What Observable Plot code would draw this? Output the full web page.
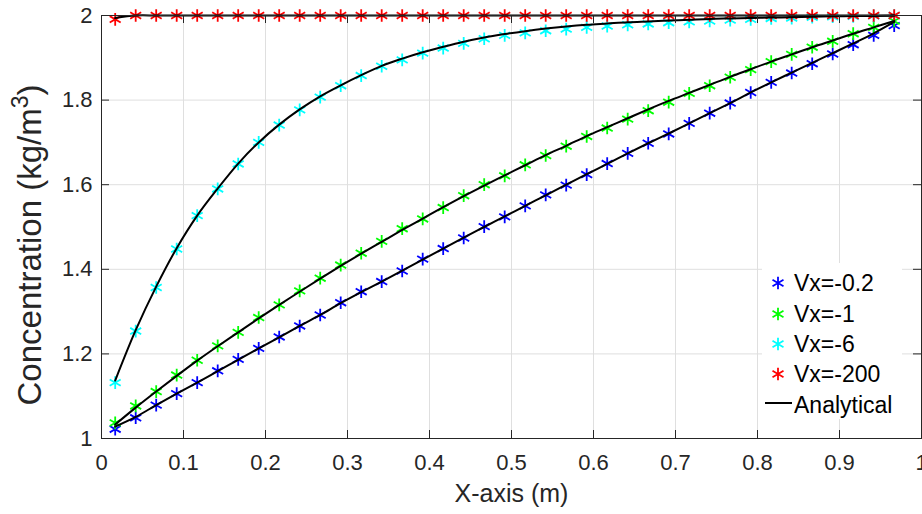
<!DOCTYPE html>
<html><head><meta charset="utf-8">
<script src="https://cdn.jsdelivr.net/npm/d3@7"></script>
<script src="https://cdn.jsdelivr.net/npm/@observablehq/plot@0.6"></script>
<style>
body{margin:0;background:#fff;}
#wrap{position:relative;width:922px;height:514px;overflow:hidden;font-family:"Liberation Sans",Arial,sans-serif;}
</style></head><body><div id="wrap"></div>
<script>
const xPos = [0.0167,0.0417,0.0667,0.0917,0.1167,0.1417,0.1667,0.1917,0.2167,0.2417,0.2667,0.2917,0.3167,0.3417,0.3667,0.3917,0.4167,0.4417,0.4667,0.4917,0.5167,0.5417,0.5667,0.5917,0.6167,0.6417,0.6667,0.6917,0.7167,0.7417,0.7667,0.7917,0.8167,0.8417,0.8667,0.8917,0.9167,0.9417,0.9667];

const vx02 = [1.022,1.049,1.079,1.106,1.132,1.160,1.187,1.213,1.240,1.266,1.292,1.321,1.347,1.371,1.396,1.424,1.449,1.474,1.501,1.524,1.550,1.576,1.599,1.624,1.650,1.674,1.698,1.720,1.745,1.769,1.793,1.818,1.842,1.864,1.886,1.909,1.931,1.953,1.976];
const vx1 = [1.037,1.077,1.111,1.150,1.185,1.219,1.251,1.286,1.316,1.349,1.379,1.410,1.438,1.466,1.496,1.519,1.546,1.574,1.600,1.621,1.647,1.669,1.691,1.714,1.734,1.755,1.775,1.795,1.816,1.834,1.854,1.872,1.891,1.908,1.925,1.939,1.957,1.972,1.987];
const vx6 = [1.132,1.254,1.357,1.448,1.527,1.590,1.649,1.700,1.741,1.777,1.807,1.834,1.858,1.880,1.895,1.911,1.923,1.934,1.945,1.953,1.959,1.964,1.968,1.972,1.975,1.978,1.980,1.983,1.985,1.987,1.989,1.991,1.993,1.994,1.996,1.997,1.998,1.999,2.000];
const vx200 = [1.991,2.000,2.000,2.000,2.000,2.000,2.000,2.000,2.000,2.000,2.000,2.000,2.000,2.000,2.000,2.000,2.000,2.000,2.000,2.000,2.000,2.000,2.000,2.000,2.000,2.000,2.000,2.000,2.000,2.000,2.000,2.000,2.000,2.000,2.000,2.000,2.000,2.000,2.000];

const an02 = [1.028,1.051,1.079,1.106,1.132,1.159,1.186,1.213,1.239,1.266,1.292,1.320,1.346,1.371,1.397,1.423,1.449,1.475,1.500,1.525,1.550,1.575,1.600,1.625,1.649,1.674,1.698,1.721,1.745,1.769,1.793,1.818,1.842,1.865,1.888,1.911,1.934,1.958,1.985];
const an1 = [1.033,1.073,1.111,1.148,1.184,1.218,1.251,1.284,1.316,1.347,1.378,1.408,1.437,1.465,1.493,1.520,1.547,1.573,1.598,1.622,1.646,1.670,1.692,1.715,1.736,1.757,1.778,1.798,1.817,1.836,1.855,1.873,1.891,1.908,1.925,1.941,1.957,1.972,1.987];
const an6 = [1.137,1.256,1.359,1.450,1.527,1.591,1.650,1.700,1.742,1.778,1.809,1.835,1.859,1.881,1.898,1.913,1.926,1.938,1.948,1.956,1.963,1.969,1.974,1.978,1.981,1.984,1.986,1.988,1.990,1.992,1.993,1.994,1.995,1.996,1.997,1.998,1.999,1.999,2.000];
const an200 = [1.994,2.000,2.000,2.000,2.000,2.000,2.000,2.000,2.000,2.000,2.000,2.000,2.000,2.000,2.000,2.000,2.000,2.000,2.000,2.000,2.000,2.000,2.000,2.000,2.000,2.000,2.000,2.000,2.000,2.000,2.000,2.000,2.000,2.000,2.000,2.000,2.000,2.000,2.000];

const seriesNames = ["Vx=-0.2","Vx=-1","Vx=-6","Vx=-200"];
const seriesColors = ["#0000ff","#00ff00","#00ffff","#ff0000"];
const analyticalName = "Analytical";
const xTicks = [0,0.1,0.2,0.3,0.4,0.5,0.6,0.7,0.8,0.9,1];
const yTicks = [1,1.2,1.4,1.6,1.8,2];
const xLabel = "X-axis (m)";
const yLabel = "Concentration (kg/m3)";

const numerical = [vx02, vx1, vx6, vx200];
const analytical = [an02, an1, an6, an200];
const pts = [];
numerical.forEach((arr,k)=>arr.forEach((v,i)=>pts.push({x:xPos[i], y:v, s:seriesNames[k]})));
const lines = [];
analytical.forEach((arr,k)=>arr.forEach((v,i)=>lines.push({x:xPos[i], y:v, s:seriesNames[k]})));

const W = 922, H = 514, mL = 101, mR = 1, mT = 15, mB = 76;
const fw = W - mL - mR, fh = H - mT - mB, tl = 8;
const axisColor = "#262626";
const markR = 6, markW = 1.8;

const plot = Plot.plot({
  width: W, height: H, marginLeft: mL, marginRight: mR, marginTop: mT, marginBottom: mB,
  style: {fontFamily: '"Liberation Sans", Arial, sans-serif', fontSize: "22px", color: axisColor, background: "transparent", overflow: "visible"},
  x: {domain: [0, 1]},
  y: {domain: [1, 2]},
  color: {domain: seriesNames, range: seriesColors},
  marks: [
    Plot.gridX(xTicks, {stroke: "#dfdfdf", strokeOpacity: 1, strokeWidth: 1}),
    Plot.gridY(yTicks, {stroke: "#dfdfdf", strokeOpacity: 1, strokeWidth: 1}),
    Plot.dot(pts, {x: "x", y: "y", stroke: "s", symbol: "asterisk", r: markR, strokeWidth: markW}),
    Plot.line(lines, {x: "x", y: "y", z: "s", stroke: "black", strokeWidth: 2, curve: "catmull-rom"}),
    Plot.frame({stroke: axisColor, strokeWidth: 1}),
    Plot.tickY(yTicks, {y: d => d, stroke: axisColor, insetRight: fw - tl}),
    Plot.tickY(yTicks, {y: d => d, stroke: axisColor, insetLeft: fw - tl}),
    Plot.tickX(xTicks, {x: d => d, stroke: axisColor, insetTop: fh - tl}),
    Plot.tickX(xTicks, {x: d => d, stroke: axisColor, insetBottom: fh - tl}),
    Plot.axisX(xTicks, {tickSize: 0, tickPadding: 16, tickFormat: d => String(d), fontSize: 22, label: null}),
    Plot.axisY(yTicks, {tickSize: 0, tickPadding: 9, tickFormat: d => String(d), fontSize: 22, label: null}),
    Plot.text([xLabel], {frameAnchor: "bottom", textAnchor: "middle", lineAnchor: "middle", dy: 55, fontSize: 25, fill: axisColor}),
    Plot.text([yLabel], {frameAnchor: "left", textAnchor: "middle", lineAnchor: "middle", rotate: -90, dx: -71, dy: 18, fontSize: 33, fill: axisColor})
  ]
});
document.getElementById("wrap").appendChild(plot);

// superscript in y label
d3.select(plot).selectAll("text").filter(function(){ return this.textContent === yLabel; }).each(function(){
  const t = d3.select(this);
  t.text("Concentration (kg/m");
  t.append("tspan").attr("dy", "-13px").attr("font-size", "23px").text("3");
  t.append("tspan").attr("dy", "13px").text(")");
});

// legend
const leg = d3.select("#wrap").append("svg")
  .attr("width", 140).attr("height", 156)
  .style("position", "absolute").style("left", "762px").style("top", "263px")
  .style("font-family", '"Liberation Sans", Arial, sans-serif').style("font-size", "23px");
leg.append("rect").attr("width", 140).attr("height", 156).attr("fill", "white");
const rowY = [20, 51, 81, 111, 142];
seriesNames.forEach((n, i) => {
  leg.append("path").attr("d", d3.symbol(d3.symbolAsterisk, Math.PI * markR * markR)())
    .attr("transform", `translate(16,${rowY[i]})`).attr("stroke", seriesColors[i]).attr("stroke-width", markW).attr("fill", "none");
  leg.append("text").attr("x", 32).attr("y", rowY[i]).attr("dy", "0.35em").attr("fill", "black").text(n);
});
leg.append("line").attr("x1", 3).attr("x2", 30).attr("y1", rowY[4] - 2).attr("y2", rowY[4] - 2).attr("stroke", "black").attr("stroke-width", 2);
leg.append("text").attr("x", 32).attr("y", rowY[4]).attr("dy", "0.35em").attr("fill", "black").text(analyticalName);
</script></body></html>
